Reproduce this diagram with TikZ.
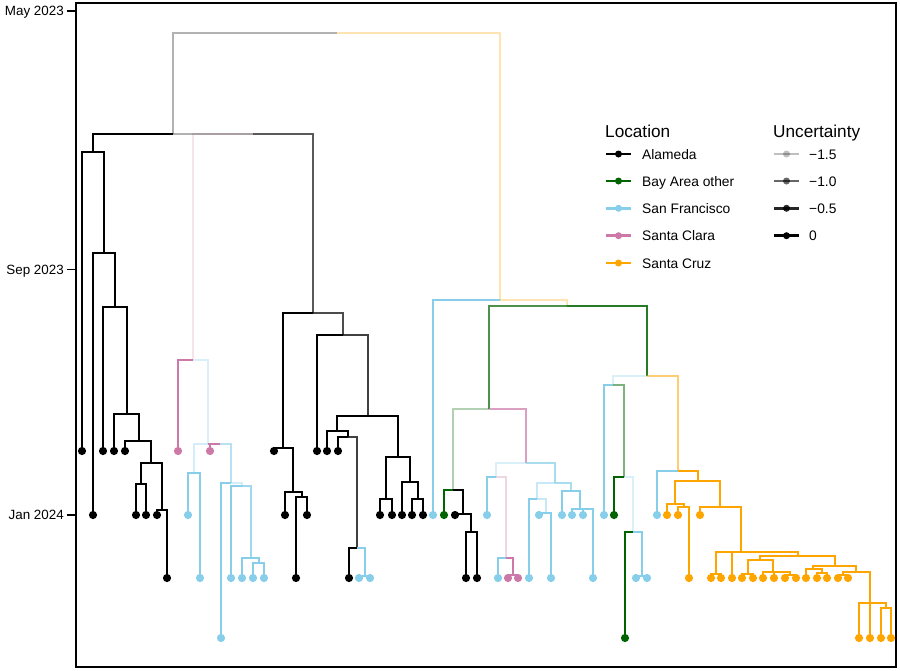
\documentclass[tikz,border=0pt]{standalone}
\usepackage{fontspec}
\setmainfont{Liberation Sans}
\definecolor{sfc}{RGB}{135,206,235}
\definecolor{scc}{RGB}{204,121,167}
\definecolor{bac}{RGB}{0,100,0}
\definecolor{szc}{RGB}{255,165,0}
\definecolor{alc}{RGB}{0,0,0}
\tikzset{branch/.style={line width=2.8pt,line join=miter,line cap=butt},
  keyline/.style={line width=2.8pt},
  axlab/.style={anchor=base east,font=\fontsize{13.4}{15}\selectfont,inner sep=0pt},
  legtitle/.style={anchor=base west,font=\fontsize{17.2}{20}\selectfont,inner sep=0pt},
  leglab/.style={anchor=base west,font=\fontsize{13.8}{16}\selectfont,inner sep=0pt}}
\newcommand{\br}[6]{\draw[branch,#1,draw opacity=#2] (#3,#4) -| (#5,#6);}
\newcommand{\tp}[6]{\br{#1}{#2}{#3}{#4}{#5}{#6}\fill[#1] (#5,#6) circle (4.1pt);}
\begin{document}
\begin{tikzpicture}[x=1pt,y=-1pt]
\useasboundingbox (0,0) rectangle (900,670);
\fill[white] (0,0) rectangle (900,670);
% frame and axis
\draw[line width=1.7pt] (76,3) rectangle (896,667);
\draw[line width=1.3pt] (67,11) -- (76,11);
\draw[line width=1.3pt] (67,269.5) -- (76,269.5);
\draw[line width=1.3pt] (67,515) -- (76,515);
\node[axlab] (t1) at (64,15.8) {May 2023};
\node[axlab] (t2) at (64,274.3) {Sep 2023};
\node[axlab] (t3) at (64,519.8) {Jan 2024};
% ---------------- root
\br{alc}{0.3}{337}{33}{173}{134}
\br{szc}{0.3}{337}{33}{500}{300}
% L1
\br{scc}{0.2}{253}{134}{193}{360}
\br{alc}{1}{173}{134}{93}{152}
\br{alc}{0.3}{173}{134}{253}{134}
\br{alc}{0.65}{253}{134}{313}{313}
% Alameda left clade
\tp{alc}{1}{93}{152}{82}{451}
\br{alc}{1}{93}{152}{104}{253}
\tp{alc}{1}{104}{253}{93}{515}
\br{alc}{1}{104}{253}{115}{307}
\tp{alc}{1}{115}{307}{103}{451}
\br{alc}{1}{115}{307}{127}{414}
\tp{alc}{1}{127}{414}{114}{451}
\br{alc}{1}{127}{414}{139}{441}
\tp{alc}{1}{139}{441}{125}{451}
\br{alc}{1}{139}{441}{151}{463}
\br{alc}{1}{151}{463}{141}{484}
\br{alc}{1}{151}{463}{162}{510}
\tp{alc}{1}{141}{484}{136}{515}
\tp{alc}{1}{141}{484}{146}{515}
\tp{alc}{1}{162}{510}{157}{515}
\tp{alc}{1}{162}{510}{167}{578}
% Santa Clara / SF clade
\tp{scc}{1}{193}{360}{178}{451}
\br{sfc}{0.3}{193}{360}{208}{444}
\br{sfc}{0.35}{208}{444}{194}{473}
\br{scc}{1}{208}{444}{220}{444}
\tp{scc}{1}{220}{444}{210}{451}
\br{sfc}{0.6}{220}{444}{231}{483}
\tp{sfc}{1}{194}{473}{188}{515}
\tp{sfc}{1}{194}{473}{200}{578}
\tp{sfc}{1}{231}{483}{221}{638}
\br{sfc}{0.35}{231}{483}{242}{486}
\tp{sfc}{1}{242}{486}{231}{578}
\br{sfc}{0.8}{242}{486}{251}{558}
\tp{sfc}{1}{251}{558}{242}{578}
\br{sfc}{1}{251}{558}{259}{563}
\tp{sfc}{1}{259}{563}{253}{578}
\tp{sfc}{1}{259}{563}{264}{578}
% dark gray clade
\br{alc}{1}{313}{313}{283}{448}
\br{alc}{0.7}{313}{313}{343}{335}
\tp{alc}{1}{283}{448}{274}{451}
\br{alc}{1}{283}{448}{293}{492}
\tp{alc}{1}{293}{492}{285}{515}
\br{alc}{1}{293}{492}{302}{497}
\tp{alc}{1}{302}{497}{296}{578}
\tp{alc}{1}{302}{497}{307}{515}
\tp{alc}{1}{343}{335}{317}{451}
\br{alc}{0.75}{343}{335}{368}{416}
\br{alc}{1}{368}{416}{337}{431}
\br{alc}{1}{368}{416}{398}{457}
\tp{alc}{1}{337}{431}{327}{451}
\br{alc}{1}{337}{431}{348}{437}
\tp{alc}{1}{348}{437}{338}{451}
\br{alc}{0.75}{348}{437}{357}{548}
\tp{alc}{1}{357}{548}{349}{578}
\br{sfc}{1}{357}{548}{365}{576}
\tp{sfc}{1}{365}{576}{359}{578}
\tp{sfc}{1}{365}{576}{370}{578}
\br{alc}{1}{398}{457}{386}{499}
\br{alc}{1}{398}{457}{410}{482}
\tp{alc}{1}{386}{499}{380}{515}
\tp{alc}{1}{386}{499}{392}{515}
\tp{alc}{1}{410}{482}{402}{515}
\br{alc}{1}{410}{482}{418}{499}
\tp{alc}{1}{418}{499}{412}{515}
\tp{alc}{1}{418}{499}{423}{515}
% ---------------- right side
\tp{sfc}{1}{500}{300}{433}{515}
\br{szc}{0.3}{500}{300}{567}{306}
\br{bac}{0.7}{567}{306}{489}{409}
\br{bac}{0.85}{567}{306}{647}{376}
\br{bac}{0.3}{489}{409}{453}{490}
\br{scc}{0.7}{489}{409}{526}{463}
\tp{bac}{1}{453}{490}{444}{515}
\br{alc}{1}{453}{490}{463}{514}
\tp{alc}{1}{463}{514}{455}{515}
\br{alc}{1}{463}{514}{471}{532}
\tp{alc}{1}{471}{532}{466}{578}
\tp{alc}{1}{471}{532}{477}{578}
\br{sfc}{0.3}{526}{463}{496}{477}
\br{sfc}{0.7}{526}{463}{555}{483}
\tp{sfc}{1}{496}{477}{487}{515}
\br{scc}{0.3}{496}{477}{506}{558}
\tp{sfc}{1}{506}{558}{498}{578}
\br{scc}{1}{506}{558}{513}{575}
\tp{scc}{1}{513}{575}{508}{578}
\tp{scc}{1}{513}{575}{518}{578}
\br{sfc}{0.45}{555}{483}{537}{499}
\br{sfc}{0.7}{555}{483}{571}{491}
\tp{sfc}{1}{537}{499}{529}{578}
\br{sfc}{0.45}{537}{499}{546}{513}
\tp{sfc}{1}{546}{513}{539}{515}
\tp{sfc}{1}{546}{513}{551}{578}
\tp{sfc}{1}{571}{491}{562}{515}
\br{sfc}{1}{571}{491}{580}{509}
\tp{sfc}{1}{580}{509}{572}{515}
\tp{sfc}{1}{580}{509}{583}{515}
\tp{sfc}{1}{580}{509}{593}{578}
% G5
\br{sfc}{0.3}{647}{376}{613}{385}
\br{szc}{0.55}{647}{376}{678}{471}
\tp{sfc}{1}{613}{385}{604}{515}
\br{bac}{0.5}{613}{385}{624}{477}
\tp{bac}{1}{624}{477}{614}{515}
\br{sfc}{0.3}{624}{477}{633}{532}
\tp{bac}{1}{633}{532}{625}{638}
\br{sfc}{1}{633}{532}{642}{576}
\tp{sfc}{1}{642}{576}{636}{578}
\tp{sfc}{1}{642}{576}{647}{578}
% Santa Cruz
\tp{sfc}{1}{678}{471}{657}{515}
\br{szc}{1}{678}{471}{698}{481}
\br{szc}{1}{698}{481}{675}{504}
\br{szc}{1}{698}{481}{720}{507}
\tp{szc}{1}{675}{504}{667}{515}
\br{szc}{1}{675}{504}{684}{507}
\tp{szc}{1}{684}{507}{678}{515}
\tp{szc}{1}{684}{507}{689}{578}
\tp{szc}{1}{720}{507}{700}{515}
\br{szc}{1}{720}{507}{741}{552}
\br{szc}{1}{741}{552}{716}{574}
\tp{szc}{1}{741}{552}{732}{578}
\br{szc}{1}{741}{552}{798}{556}
\tp{szc}{1}{716}{574}{711}{578}
\tp{szc}{1}{716}{574}{721}{578}
\br{szc}{1}{798}{556}{760}{560}
\br{szc}{1}{798}{556}{835}{566}
\br{szc}{1}{760}{560}{748}{574}
\br{szc}{1}{760}{560}{773}{572}
\tp{szc}{1}{748}{574}{742}{578}
\tp{szc}{1}{748}{574}{753}{578}
\tp{szc}{1}{773}{572}{763}{578}
\tp{szc}{1}{773}{572}{774}{578}
\br{szc}{1}{773}{572}{790}{575}
\tp{szc}{1}{790}{575}{785}{578}
\tp{szc}{1}{790}{575}{796}{578}
\br{szc}{1}{835}{566}{813}{569}
\br{szc}{1}{835}{566}{856}{572}
\tp{szc}{1}{813}{569}{806}{578}
\br{szc}{1}{813}{569}{822}{573}
\tp{szc}{1}{822}{573}{817}{578}
\tp{szc}{1}{822}{573}{827}{578}
\br{szc}{1}{856}{572}{843}{575}
\br{szc}{1}{856}{572}{870}{603}
\tp{szc}{1}{843}{575}{838}{578}
\tp{szc}{1}{843}{575}{848}{578}
\tp{szc}{1}{870}{603}{859}{638}
\tp{szc}{1}{870}{603}{870}{638}
\br{szc}{1}{870}{603}{886}{608}
\tp{szc}{1}{886}{608}{881}{638}
\tp{szc}{1}{886}{608}{891}{638}
% ---------------- legend
\node[legtitle] (loct) at (605,137) {Location};
\node[legtitle] (unct) at (773,137) {Uncertainty};
\draw[keyline,alc] (606,154) -- (631,154); \fill[alc] (618.5,154) circle (3.5pt);
\draw[keyline,bac] (606,181) -- (631,181); \fill[bac] (618.5,181) circle (3.5pt);
\draw[keyline,sfc] (606,208.3) -- (631,208.3); \fill[sfc] (618.5,208.3) circle (3.5pt);
\draw[keyline,scc] (606,235.7) -- (631,235.7); \fill[scc] (618.5,235.7) circle (3.5pt);
\draw[keyline,szc] (606,263) -- (631,263); \fill[szc] (618.5,263) circle (3.5pt);
\node[leglab] (l1) at (642,159) {Alameda};
\node[leglab] (l2) at (642,186) {Bay Area other};
\node[leglab] (l3) at (642,213.3) {San Francisco};
\node[leglab] (l4) at (642,240.7) {Santa Clara};
\node[leglab] (l5) at (642,268) {Santa Cruz};
\draw[keyline,alc,draw opacity=0.25] (774,154) -- (799,154); \fill[alc,fill opacity=0.25] (786.5,154) circle (3.5pt);
\draw[keyline,alc,draw opacity=0.6] (774,181) -- (799,181); \fill[alc,fill opacity=0.6] (786.5,181) circle (3.5pt);
\draw[keyline,alc,draw opacity=0.85] (774,208.3) -- (799,208.3); \fill[alc,fill opacity=0.85] (786.5,208.3) circle (3.5pt);
\draw[keyline,alc] (774,235.7) -- (799,235.7); \fill[alc] (786.5,235.7) circle (3.5pt);
\node[leglab] (u1) at (809,159) {−1.5};
\node[leglab] (u2) at (809,186) {−1.0};
\node[leglab] (u3) at (809,213.3) {−0.5};
\node[leglab] (u4) at (809,240.7) {0};
\end{tikzpicture}
\end{document}
